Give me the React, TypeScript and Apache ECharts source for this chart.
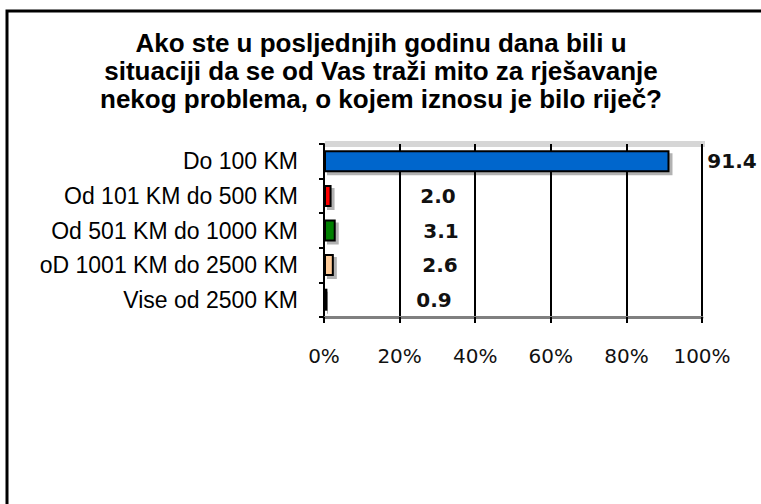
import React, { useEffect, useRef } from "react";
import * as echarts from "echarts";

const TITLE_LINES = [
  "Ako ste u posljednjih godinu dana bili u",
  "situaciji da se od Vas traži mito za rješavanje",
  "nekog problema, o kojem iznosu je bilo riječ?",
];
const CATEGORIES = [
  "Do 100 KM",
  "Od 101 KM do 500 KM",
  "Od 501 KM do 1000 KM",
  "oD 1001 KM do 2500 KM",
  "Vise od 2500 KM",
];
const VALUES = [91.4, 2.0, 3.1, 2.6, 0.9];
const BAR_COLORS = ["#0066CC", "#FF0000", "#008000", "#FFCC99", "#003B3B"];
const X_MIN = 0;
const X_MAX = 100;
const X_STEP = 20;

// label anchor offsets (px from the bar's start), layout only
const LABEL_OFFSETS = [408, 114, 117, 116, 110];

export default function App() {
  const ref = useRef<HTMLDivElement>(null);

  useEffect(() => {
    if (!ref.current) return;
    const chart = echarts.init(ref.current, undefined, { renderer: "svg" });
    const data = VALUES.map((v, i) => ({
      value: v,
      itemStyle: { color: BAR_COLORS[i] },
      label: { position: [LABEL_OFFSETS[i], "50%"] },
    }));
    chart.setOption({
      animation: false,
      backgroundColor: "#fff",
      title: {
        text: TITLE_LINES.join("\n"),
        left: 376,
        top: 24,
        textAlign: "center",
        textStyle: {
          fontFamily: "Liberation Sans, Arial, sans-serif",
          fontWeight: "bold",
          fontSize: 26,
          lineHeight: 28,
          color: "#000",
        },
      },
      graphic: [
        {
          type: "rect",
          shape: { x: 7, y: 11, width: 800, height: 600 },
          style: { fill: "none", stroke: "#000", lineWidth: 3 },
          z: 100,
        },
        {
          type: "rect",
          shape: { x: 325, y: 141, width: 380, height: 6 },
          style: { fill: "#d6d6d6" },
          z: -1,
        },
      ],
      grid: { left: 324, right: 59, top: 144, bottom: 187, containLabel: false },
      xAxis: {
        type: "value",
        min: X_MIN,
        max: X_MAX,
        interval: X_STEP,
        axisLine: { show: true, lineStyle: { color: "#808080", width: 3 } },
        axisTick: { show: true, length: 6, lineStyle: { color: "#000", width: 2 } },
        splitLine: { show: true, lineStyle: { color: "#000", width: 2 } },
        axisLabel: {
          formatter: "{value}%",
          margin: 29,
          color: "#111",
          fontFamily: "DejaVu Sans, Verdana, sans-serif",
          fontSize: 20,
        },
      },
      yAxis: {
        type: "category",
        data: CATEGORIES,
        inverse: true,
        axisLine: { show: true, lineStyle: { color: "#000", width: 2 } },
        axisTick: { show: true, length: 5, lineStyle: { color: "#000", width: 2 } },
        axisLabel: {
          margin: 26,
          color: "#000",
          fontFamily: "Liberation Sans, Arial, sans-serif",
          fontSize: 23,
        },
      },
      series: [
        {
          type: "bar",
          data,
          barWidth: 22,
          itemStyle: {
            borderColor: "#000",
            borderWidth: 2,
            shadowColor: "rgba(0,0,0,0.3)",
            shadowOffsetX: 3,
            shadowOffsetY: 3,
            shadowBlur: 0,
          },
          label: {
            show: true,
            align: "center",
            verticalAlign: "middle",
            formatter: (p: any) => Number(p.value).toFixed(1),
            color: "#111",
            fontFamily: "DejaVu Sans, Verdana, sans-serif",
            fontWeight: "bold",
            fontSize: 20,
          },
        },
      ],
    });
    return () => chart.dispose();
  }, []);

  return (
    <div
      ref={ref}
      style={{ position: "fixed", left: 0, top: 0, width: 761, height: 504 }}
    />
  );
}
